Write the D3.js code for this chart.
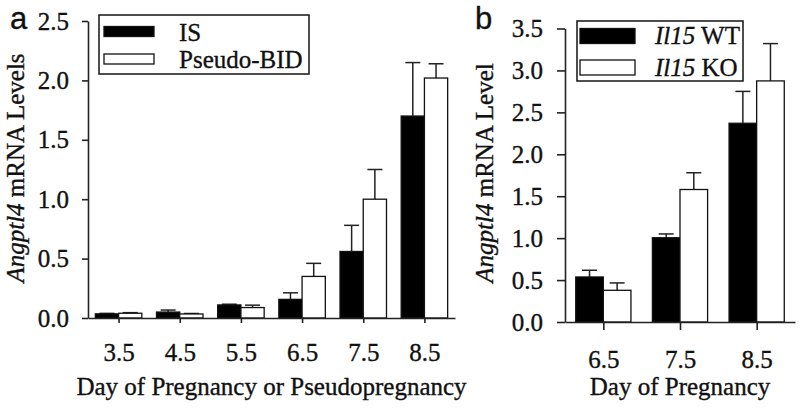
<!DOCTYPE html>
<html>
<head>
<meta charset="utf-8">
<script src="https://cdn.jsdelivr.net/npm/d3@7"></script>
<style>
  body { margin: 0; background: #fff; }
  text { font-family: "Liberation Serif", "Times New Roman", Times, serif; fill: #111; stroke: #111; stroke-width: 0.35px; }
</style>
</head>
<body>
<div id="chart"></div>
<script>
// panel a
const daysA = [3.5, 4.5, 5.5, 6.5, 7.5, 8.5];
const isMean = [0.035, 0.05, 0.11, 0.157, 0.56, 1.70];
const isErr = [0.004, 0.017, 0.006, 0.055, 0.22, 0.45];
const pseudoMean = [0.04, 0.034, 0.088, 0.35, 1.0, 2.02];
const pseudoErr = [0.005, 0.004, 0.02, 0.11, 0.25, 0.12];
const yTicksA = [0, 0.5, 1.0, 1.5, 2.0, 2.5];

// panel b
const daysB = [6.5, 7.5, 8.5];
const wtMean = [0.537, 1.005, 2.37];
const wtErr = [0.08, 0.045, 0.38];
const koMean = [0.378, 1.58, 2.875];
const koErr = [0.088, 0.2, 0.445];
const yTicksB = [0, 0.5, 1.0, 1.5, 2.0, 2.5, 3.0, 3.5];

const width = 800;
const height = 408;
const fs = 25;

const svg = d3.select("#chart")
    .append("svg")
    .attr("width", width)
    .attr("height", height)
    .attr("viewBox", [0, 0, width, height]);

svg.append("rect").attr("width", width).attr("height", height).attr("fill", "#fff");

function drawPanel(opt) {
    const g = svg.append("g");
    const x = d3.scaleLinear().domain(opt.xDomain).range(opt.xRange);
    const y = d3.scaleLinear().domain([0, opt.yMax]).range(opt.yRange);
    const bw = x(opt.days[0] + opt.barUnits) - x(opt.days[0]);

    const rows = opt.days.map((d, i) => [
        { day: d, v: opt.mean1[i], e: opt.err1[i], fill: "#000", off: -bw },
        { day: d, v: opt.mean2[i], e: opt.err2[i], fill: "#fff", off: 0 }
    ]).flat();

    // error bars (upper only), drawn behind bars
    const eb = g.selectAll(".err")
        .data(rows)
        .enter()
        .append("g")
        .attr("class", "err")
        .attr("stroke", "#222")
        .attr("stroke-width", 1.5);
    eb.append("line")
        .attr("x1", (d) => x(d.day) + d.off + bw / 2)
        .attr("x2", (d) => x(d.day) + d.off + bw / 2)
        .attr("y1", (d) => y(d.v))
        .attr("y2", (d) => y(d.v + d.e));
    eb.append("line")
        .attr("x1", (d) => x(d.day) + d.off + bw / 2 - opt.cap / 2)
        .attr("x2", (d) => x(d.day) + d.off + bw / 2 + opt.cap / 2)
        .attr("y1", (d) => y(d.v + d.e))
        .attr("y2", (d) => y(d.v + d.e));

    g.selectAll(".bar")
        .data(rows)
        .enter()
        .append("rect")
        .attr("class", "bar")
        .attr("x", (d) => x(d.day) + d.off)
        .attr("y", (d) => y(d.v))
        .attr("width", bw)
        .attr("height", (d) => y(0) - y(d.v))
        .attr("fill", (d) => d.fill)
        .attr("stroke", "#111")
        .attr("stroke-width", 1.3);

    // axes
    const yAxis = g.append("g")
        .attr("transform", `translate(${opt.xRange[0]},0)`)
        .call(d3.axisLeft(y).tickValues(opt.yTicks).tickFormat(d3.format(".1f"))
            .tickSizeOuter(0).tickSizeInner(opt.yTickSize).tickPadding(opt.yTickPad));
    const xAxis = g.append("g")
        .attr("transform", `translate(0,${opt.yRange[0]})`)
        .call(d3.axisBottom(x).tickValues(opt.days).tickFormat(d3.format(".1f"))
            .tickSizeOuter(0).tickSizeInner(opt.xTickSize).tickPadding(opt.xTickPad));
    [yAxis, xAxis].forEach((a) => {
        a.selectAll("path, line").attr("stroke", "#222").attr("stroke-width", 1.6);
        a.selectAll("text")
            .attr("font-size", fs)
            .attr("fill", "#111");
    });

    // axis titles
    g.append("text")
        .attr("x", (opt.xRange[0] + opt.xRange[1]) / 2)
        .attr("y", 395)
        .attr("text-anchor", "middle")
        .attr("font-size", fs)
        .text(opt.xTitle);

    const yt = g.append("text")
        .attr("transform", `translate(${opt.yTitleX},${opt.yTitleY}) rotate(-90)`)
        .attr("text-anchor", "middle")
        .attr("font-size", fs);
    yt.append("tspan").attr("font-style", "italic").text("Angptl4");
    yt.append("tspan").text(opt.yTitle);

    // panel letter
    g.append("text")
        .attr("x", opt.letterX)
        .attr("y", 29)
        .attr("font-size", 31)
        .style("font-family", "'Liberation Sans', Arial, sans-serif")
        .text(opt.letter);

    // legend
    const lg = opt.legend;
    g.append("rect")
        .attr("x", lg.x)
        .attr("y", lg.y)
        .attr("width", lg.w)
        .attr("height", lg.h)
        .attr("fill", "#fff")
        .attr("stroke", "#222")
        .attr("stroke-width", 1.6);
    lg.items.forEach((it, i) => {
        g.append("rect")
            .attr("x", lg.sx)
            .attr("y", lg.sy[i])
            .attr("width", lg.sw)
            .attr("height", lg.sh)
            .attr("fill", i === 0 ? "#000" : "#fff")
            .attr("stroke", "#111")
            .attr("stroke-width", 1.3);
        const t = g.append("text")
            .attr("x", lg.tx)
            .attr("y", lg.ty[i])
            .attr("font-size", fs);
        it.forEach((p) => {
            t.append("tspan").attr("font-style", p.italic ? "italic" : "normal").text(p.s);
        });
    });
}

drawPanel({
    days: daysA, mean1: isMean, err1: isErr, mean2: pseudoMean, err2: pseudoErr,
    xDomain: [3, 9], xRange: [88, 455], yMax: 2.5, yRange: [318, 21], yTicks: yTicksA,
    barUnits: 0.38, cap: 15,
    yTickSize: 6, yTickPad: 13, xTickSize: 5, xTickPad: 20,
    xTitle: "Day of Pregnancy or Pseudopregnancy", yTitle: " mRNA Levels",
    yTitleX: 24, yTitleY: 168, letter: "a", letterX: 10,
    legend: {
        x: 99, y: 15, w: 210, h: 59, sx: 104, sw: 50, sh: 10, sy: [26.5, 54],
        tx: 179, ty: [41, 68],
        items: [[{ s: "IS" }], [{ s: "Pseudo-BID" }]]
    }
});

drawPanel({
    days: daysB, mean1: wtMean, err1: wtErr, mean2: koMean, err2: koErr,
    xDomain: [6, 9], xRange: [565, 795], yMax: 3.5, yRange: [322, 28.5], yTicks: yTicksB,
    barUnits: 0.36, cap: 15,
    yTickSize: 8, yTickPad: 14, xTickSize: 8, xTickPad: 20,
    xTitle: "Day of Pregnancy", yTitle: " mRNA Level",
    yTitleX: 493, yTitleY: 173, letter: "b", letterX: 475,
    legend: {
        x: 577, y: 21, w: 166, h: 60, sx: 580, sw: 55, sh: 15, sy: [28.5, 60],
        tx: 655, ty: [43.5, 75.5],
        items: [[{ s: "Il15", italic: true }, { s: " WT" }], [{ s: "Il15", italic: true }, { s: " KO" }]]
    }
});
</script>
</body>
</html>
